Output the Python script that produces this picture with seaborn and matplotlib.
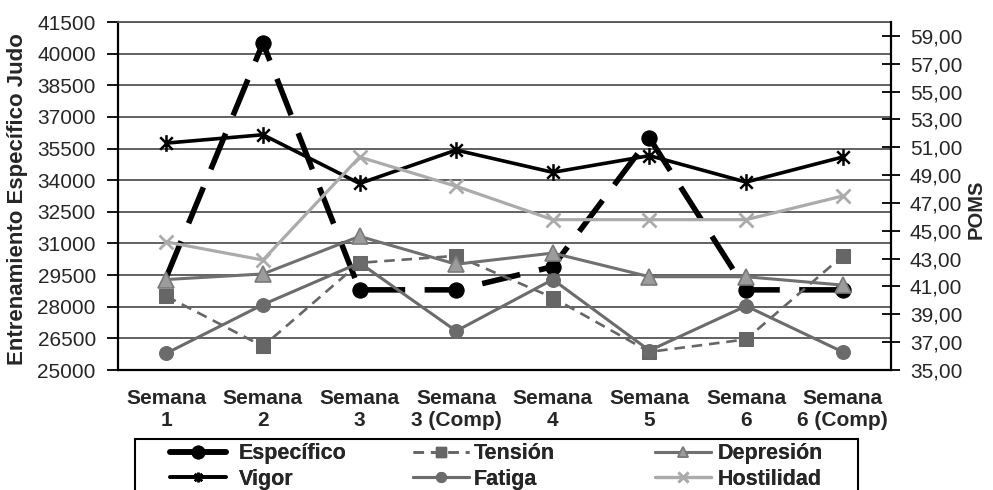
import numpy as np
import pandas as pd
import matplotlib
matplotlib.use("Agg")
import matplotlib.pyplot as plt
import seaborn as sns
from matplotlib.path import Path
from matplotlib.lines import Line2D
from matplotlib.patches import Rectangle
from matplotlib.ticker import FixedLocator

# ---- data ----
semanas = ["Semana\n1", "Semana\n2", "Semana\n3", "Semana\n3 (Comp)",
           "Semana\n4", "Semana\n5", "Semana\n6", "Semana\n6 (Comp)"]
especifico = [29400, 40500, 28800, 28800, 29900, 36000, 28800, 28800]
tension = [40.3, 36.7, 42.7, 43.2, 40.2, 36.3, 37.2, 43.2]
depresion = [41.5, 41.9, 44.6, 42.6, 43.4, 41.7, 41.7, 41.1]
vigor = [51.3, 51.9, 48.4, 50.8, 49.2, 50.4, 48.5, 50.3]
fatiga = [36.2, 39.7, 42.7, 37.8, 41.5, 36.4, 39.6, 36.3]
hostilidad = [44.2, 42.9, 50.3, 48.2, 45.8, 45.8, 45.8, 47.5]

left_ticks = list(range(25000, 41501, 1500))
right_ticks = list(range(35, 60, 2))

sns.set_style("white")
plt.rcParams['font.family'] = ['Liberation Sans', 'DejaVu Sans']

W, H = 993, 490
fig = plt.figure(figsize=(W / 100, H / 100), dpi=100)
ax = fig.add_axes([118 / W, 1 - 370 / H, (891 - 118) / W, (370 - 22) / H])
ax2 = ax.twinx()

star = Path([(0, -1), (0, 1), (-0.75, -0.75), (0.75, 0.75), (-0.75, 0.75), (0.75, -0.75)],
            [Path.MOVETO, Path.LINETO, Path.MOVETO, Path.LINETO, Path.MOVETO, Path.LINETO])

df = pd.DataFrame({"semana": semanas, "Específico": especifico, "Tensión": tension,
                   "Depresión": depresion, "Vigor": vigor, "Fatiga": fatiga,
                   "Hostilidad": hostilidad})

styles = {
    "Específico": dict(color="black", lw=4.0, linestyle=(0, (7, 3.5)), marker="o",
                       markersize=11, markerfacecolor="black", markeredgecolor="black"),
    "Tensión": dict(color="#666666", lw=1.9, linestyle=(0, (4, 2.6)), marker="s",
                    markersize=9.5, markerfacecolor="#666666", markeredgecolor="#666666"),
    "Depresión": dict(color="#707070", lw=2.2, linestyle="-", marker="^",
                      markersize=11, markerfacecolor="#9c9c9c", markeredgecolor="#7a7a7a",
                      markeredgewidth=1.2),
    "Vigor": dict(color="black", lw=2.6, linestyle="-", marker=star,
                  markersize=12, markerfacecolor="black", markeredgecolor="black",
                  markeredgewidth=1.8),
    "Fatiga": dict(color="#6b6b6b", lw=2.2, linestyle="-", marker="o",
                   markersize=10, markerfacecolor="#6b6b6b", markeredgecolor="#6b6b6b"),
    "Hostilidad": dict(color="#ababab", lw=2.3, linestyle="-", marker="x",
                       markersize=10, markerfacecolor="#ababab", markeredgecolor="#ababab",
                       markeredgewidth=2.0),
}

sns.lineplot(data=df, x="semana", y="Específico", ax=ax, sort=False,
             markevery=list(range(1, len(semanas))), **styles["Específico"])
for name in ["Tensión", "Depresión", "Vigor", "Fatiga", "Hostilidad"]:
    sns.lineplot(data=df, x="semana", y=name, ax=ax2, sort=False, **styles[name])

# ---- axes ----
ax.set_xlim(-0.5, 7.5)
ax.set_ylim(25000, 41500)
ax2.set_ylim(35, 60)
ax.set_yticks(left_ticks)
ax.set_yticklabels([str(v) for v in left_ticks])
ax2.set_yticks(right_ticks)
ax2.set_yticklabels([f"{v},00" for v in right_ticks])
for a in (ax, ax2):
    a.set_xlabel("")
    a.set_ylabel("")

ax.grid(axis="y", color="#555555", lw=1.3)
ax.grid(axis="x", visible=False)
ax2.grid(False)

ax.xaxis.set_minor_locator(FixedLocator(np.arange(-0.5, 8, 1)))
ax.tick_params(axis="x", which="major", length=0, pad=14, labelsize=15)
ax.tick_params(axis="x", which="minor", length=8, width=1.3, color="black", direction="out")
for lab in ax.get_xticklabels():
    lab.set_fontweight("bold")
    lab.set_linespacing(1.2)
ax.tick_params(axis="y", length=8, width=1.3, color="black", direction="out",
               pad=8, labelsize=15, left=True)
ax2.tick_params(axis="y", length=13, width=1.3, color="black", direction="inout",
                pad=7, labelsize=15, right=True)

for sp in ["left", "bottom"]:
    ax.spines[sp].set_color("black")
    ax.spines[sp].set_linewidth(1.6)
ax.spines["right"].set_visible(False)
ax.spines["top"].set_color("#555555")
ax.spines["top"].set_linewidth(1.3)
for sp in ["left", "bottom", "top"]:
    ax2.spines[sp].set_visible(False)
ax2.spines["right"].set_color("black")
ax2.spines["right"].set_linewidth(1.6)

fig.text(18 / W, 1 - 199 / H, "Entrenamiento Específico Judo", rotation=90,
         ha="center", va="center", fontsize=16, fontweight="bold")
fig.text(976 / W, 1 - 209 / H, "POMS", rotation=90, ha="center", va="center",
         fontsize=14.5, fontweight="bold")

# ---- legend ----
def handle(name):
    s = styles[name]
    ms = 9 if name == "Específico" else 7
    ls = "-" if name == "Específico" else s["linestyle"]
    return Line2D([0], [0], color=s["color"], lw=s["lw"], linestyle=ls,
                  marker=s["marker"], markersize=ms,
                  markerfacecolor=s["markerfacecolor"], markeredgecolor=s["markeredgecolor"],
                  markeredgewidth=s.get("markeredgewidth", 1.0))

columns = [(170, ["Específico", "Vigor"], 0.6), (413, ["Tensión", "Fatiga"], 0.2),
           (655, ["Depresión", "Hostilidad"], 0.3)]
for x0, names, tp in columns:
    lg = fig.legend([handle(n) for n in names], names, loc="center left",
                    bbox_to_anchor=(x0 / W, 1 - 466.5 / H), ncol=1, frameon=False,
                    prop=dict(size=15.5, weight="bold"), handlelength=2.6,
                    handletextpad=tp, labelspacing=0.2, borderpad=0,
                    borderaxespad=0)
    fig.add_artist(lg)

fig.add_artist(Rectangle((135 / W, -10 / H), (858 - 135) / W, (490 + 10 - 439) / H,
                         transform=fig.transFigure, fill=False, edgecolor="black",
                         lw=1.5, clip_on=False))

fig.savefig("out.png", dpi=100)
